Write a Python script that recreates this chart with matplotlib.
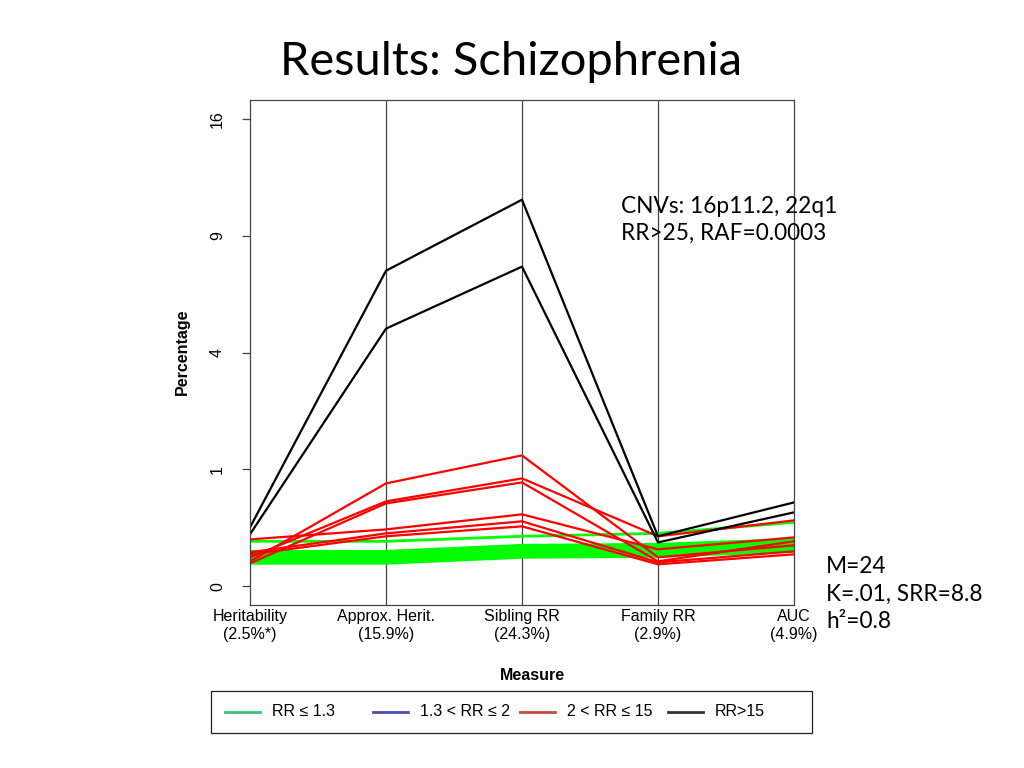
import numpy as np
from matplotlib import pyplot as plt
from matplotlib.lines import Line2D
from matplotlib.patches import Rectangle

measures = ['Heritability\n(2.5%*)', 'Approx. Herit.\n(15.9%)', 'Sibling RR\n(24.3%)',
            'Family RR\n(2.9%)', 'AUC\n(4.9%)']
y_ticks = [0, 1, 4, 9, 16]

# RR <= 1.3 (one thin line plus the thick band)
green_lines = [
    [0.148, 0.148, 0.183, 0.205, 0.299],
    [0.0895, 0.0895, 0.123, 0.129, 0.161],
    [0.0796, 0.0796, 0.111, 0.117, 0.148],
    [0.0702, 0.0702, 0.100, 0.1055, 0.135],
    [0.0614, 0.0614, 0.0895, 0.0947, 0.123],
    [0.0533, 0.0533, 0.0796, 0.0844, 0.111],
    [0.0457, 0.0457, 0.0702, 0.0748, 0.100],
    [0.0386, 0.0386, 0.0614, 0.0657, 0.0895],
]
# 2 < RR <= 15
red_lines = [
    [0.0457, 0.775, 1.254, 0.0614, 0.123],
    [0.0614, 0.528, 0.852, 0.183, 0.318],
    [0.0386, 0.503, 0.790, 0.0457, 0.148],
    [0.161, 0.237, 0.379, 0.100, 0.175],
    [0.0844, 0.205, 0.309, 0.0421, 0.0895],
    [0.0748, 0.183, 0.263, 0.0354, 0.0748],
]
# RR > 15
black_lines = [
    [0.254, 7.29, 10.94, 0.183, 0.515],
    [0.198, 4.86, 7.48, 0.141, 0.400],
]

legend_labels = ['RR \u2264 1.3', '1.3 < RR \u2264 2', '2 < RR \u2264 15', 'RR>15']
legend_colors = ['#3dbf80', '#4c4cc0', '#c84c3c', '#333333']

plt.rcParams['font.family'] = ['Liberation Sans', 'DejaVu Sans']


def fwd(x):
    x = np.asarray(x, dtype=float)
    return np.sign(x) * np.sqrt(np.abs(x))


def inv(x):
    x = np.asarray(x, dtype=float)
    return np.sign(x) * x ** 2


W, H = 1024, 768
fig = plt.figure(figsize=[10.24, 7.68], dpi=100)
ax = fig.add_axes([250 / W, 1 - 605 / H, 544 / W, 505 / H])
ax.set_yscale('function', functions=(fwd, inv))

xs = np.arange(len(measures))
for vals in green_lines:
    ax.plot(xs, vals, color='#00ff00', lw=2.0)
for vals in red_lines:
    ax.plot(xs, vals, color='#ff0000', lw=1.6)
for vals in black_lines:
    ax.plot(xs, vals, color='#000000', lw=1.6)

for x in xs[1:-1]:
    ax.axvline(x, color='#444444', lw=0.9, zorder=0)

ax.set_xlim(0, len(measures) - 1)
ax.set_ylim(-0.0256, 17.31)
ax.set_yticks(y_ticks)
ax.set_yticklabels([str(t) for t in y_ticks], rotation=90, va='center', fontsize=11.5)
ax.set_xticks(xs)
ax.set_xticklabels(measures, fontsize=11.5)
ax.tick_params(axis='x', length=0, pad=3)
ax.tick_params(axis='y', length=6, width=0.9, pad=12, color='#444444')
for s in ax.spines.values():
    s.set_color('#444444')
    s.set_linewidth(0.9)

fig.text(182 / W, 1 - 352 / H, 'Percentage', rotation=90, ha='center', va='center',
         fontsize=11.5, fontweight='bold')
fig.text(532 / W, 1 - 675 / H, 'Measure', ha='center', va='center',
         fontsize=11.5, fontweight='bold')

fig.text(511 / W, 1 - 62 / H, 'Results: Schizophrenia', ha='center', va='center',
         fontsize=33.8, family=['Lato', 'DejaVu Sans'])
fig.text(621 / W, 1 - 220 / H, 'CNVs: 16p11.2, 22q1\nRR>25, RAF=0.0003', ha='left',
         va='center', fontsize=16.3, linespacing=1.37, family=['Lato', 'DejaVu Sans'])
fig.text(826 / W, 1 - 594 / H, 'M=24\nK=.01, SRR=8.8\nh\u00b2=0.8', ha='left',
         va='center', fontsize=16.3, linespacing=1.37, family=['Lato', 'DejaVu Sans'])

# legend box drawn R-style with evenly spaced entries
fig.add_artist(Rectangle((211 / W, 1 - 733 / H), 601 / W, 42 / H, transform=fig.transFigure,
                         fill=False, edgecolor='#222222', lw=0.9))
for i, (lab, col) in enumerate(zip(legend_labels, legend_colors)):
    x0 = 225 + i * 147.5
    fig.add_artist(Line2D([x0 / W, (x0 + 35) / W], [1 - 712 / H, 1 - 712 / H],
                          transform=fig.transFigure, color=col, lw=2))
    fig.text((x0 + 47) / W, 1 - 712 / H, lab, ha='left', va='center', fontsize=11.5)

plt.savefig('out.png', dpi=100)
